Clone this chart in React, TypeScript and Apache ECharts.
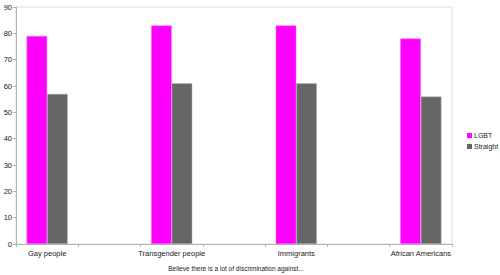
import React, { useEffect, useRef } from "react";
import * as echarts from "echarts";

const categories = ["Gay people", "", "Transgender people", "", "Immigrants", "", "African Americans"];
const lgbtValues = [79, null, 83, null, 83, null, 78];
const straightValues = [57, null, 61, null, 61, null, 56];
const yTicks = { min: 0, max: 90, interval: 10 };
const titleText = "Believe there is a lot of discrimination against...";

export default function App() {
  const ref = useRef<HTMLDivElement>(null);
  useEffect(() => {
    if (!ref.current) return;
    const chart = echarts.init(ref.current, null, { renderer: "svg" });
    const font = "Liberation Sans";
    chart.setOption({
      animation: false,
      backgroundColor: "#ffffff",
      title: {
        text: titleText,
        left: 231,
        top: 260,
        textAlign: "center",
        textStyle: { fontSize: 6.5, fontWeight: "normal", color: "#222", fontFamily: font },
      },
      legend: {
        orient: "vertical",
        left: 462,
        top: 127,
        itemWidth: 5,
        itemHeight: 5,
        itemGap: 4,
        icon: "rect",
        itemStyle: { borderWidth: 0 },
        textStyle: { fontSize: 7, color: "#222", fontFamily: font, padding: [0, 0, 0, -3] },
        data: ["LGBT", "Straight"],
      },
      grid: {
        left: 16,
        right: 48,
        top: 7,
        bottom: 31,
        show: true,
        borderColor: "#dcdcdc",
        borderWidth: 1,
        containLabel: false,
      },
      xAxis: {
        type: "category",
        data: categories,
        axisLine: { lineStyle: { color: "#b3b3b3" } },
        axisTick: { show: true, length: 3, lineStyle: { color: "#b3b3b3" } },
        axisLabel: { interval: 0, fontSize: 7.5, color: "#222", fontFamily: font, margin: 5 },
        splitLine: { show: false },
      },
      yAxis: {
        type: "value",
        min: yTicks.min,
        max: yTicks.max,
        interval: yTicks.interval,
        axisLine: { show: true, lineStyle: { color: "#b3b3b3" } },
        axisTick: { show: true, length: 3, lineStyle: { color: "#b3b3b3" } },
        axisLabel: { fontSize: 7.5, color: "#222", fontFamily: font, margin: 4 },
        splitLine: { show: false },
      },
      series: [
        {
          name: "LGBT",
          type: "bar",
          data: lgbtValues,
          barGap: "0%",
          barCategoryGap: "34%",
          itemStyle: { color: "#ff00ff", borderColor: "#ff66ff", borderWidth: 0.5 },
        },
        {
          name: "Straight",
          type: "bar",
          data: straightValues,
          itemStyle: { color: "#666666", borderColor: "#b3b3b3", borderWidth: 0.5 },
        },
      ],
    });
    return () => chart.dispose();
  }, []);
  return <div ref={ref} style={{ width: 500, height: 275, position: "absolute", left: 0, top: 0 }} />;
}
